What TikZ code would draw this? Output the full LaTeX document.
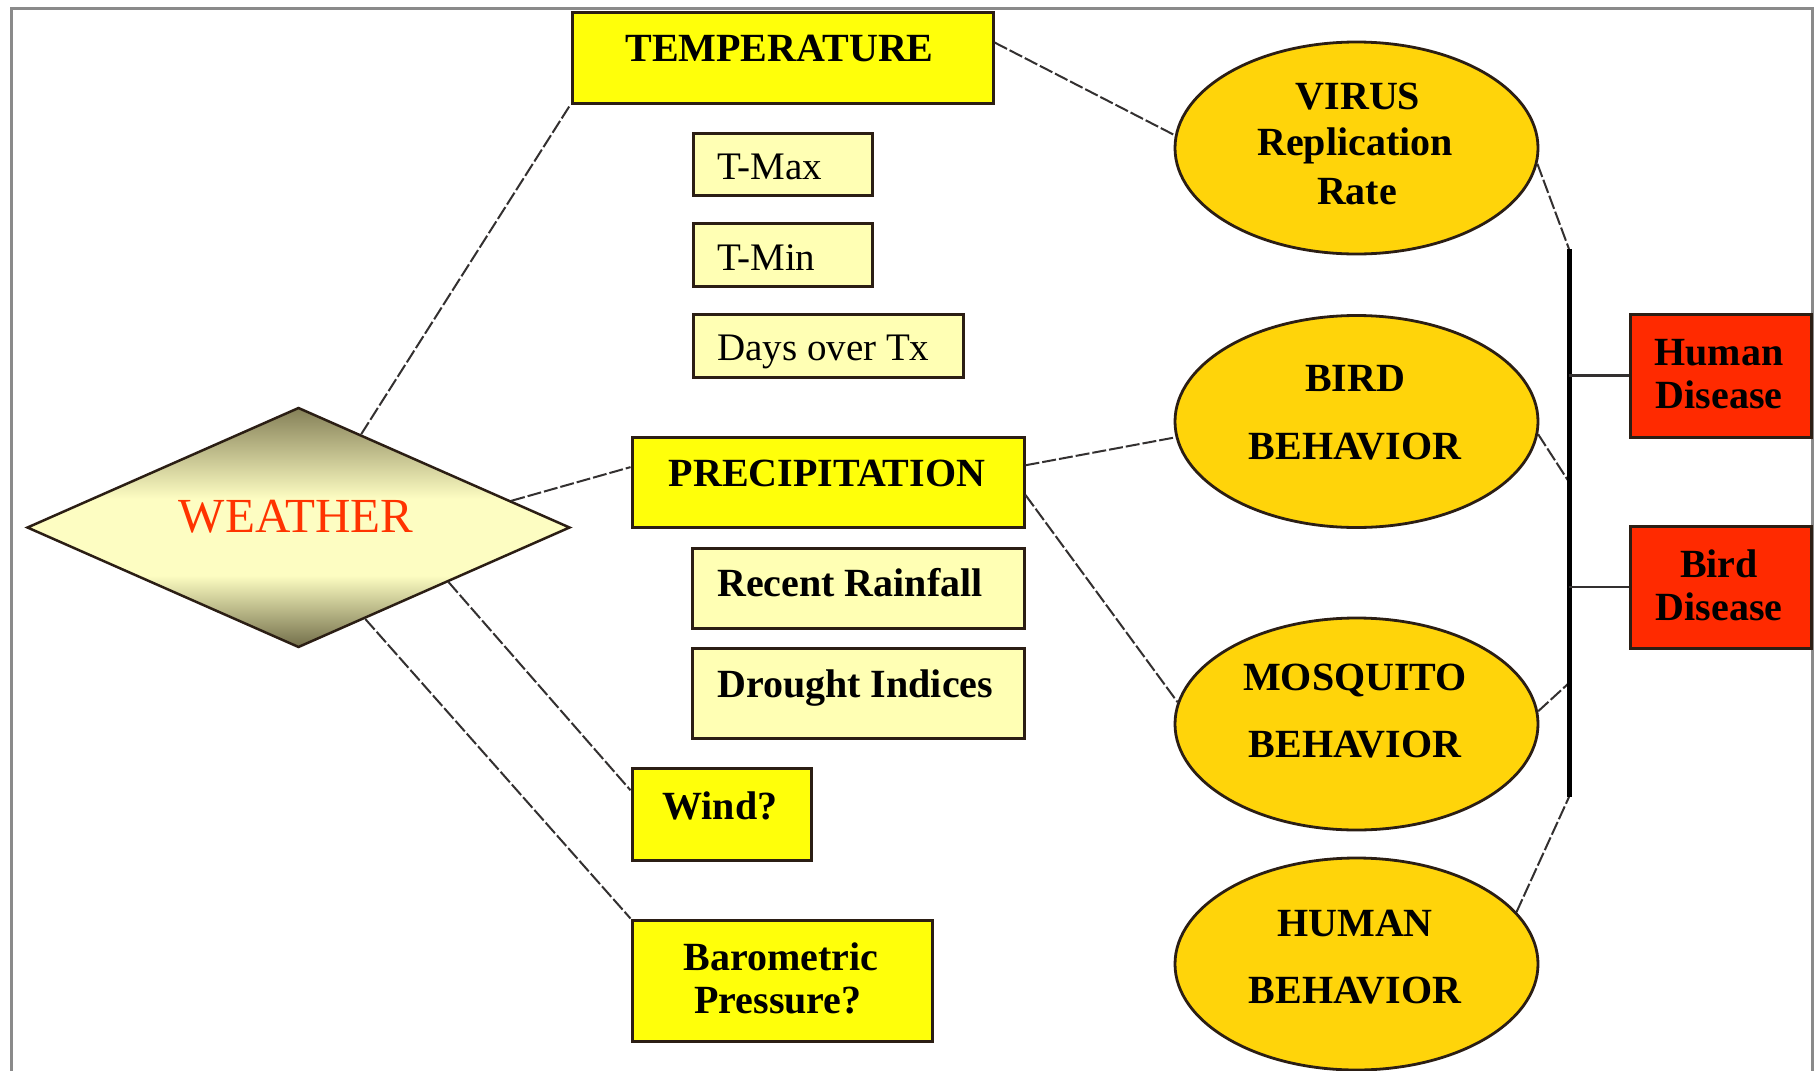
\documentclass[tikz,border=0pt]{standalone}
\usepackage{fontspec}
\setmainfont{Liberation Serif}
\usetikzlibrary{shapes.geometric,calc}
\definecolor{ybright}{HTML}{FFFF0A}
\definecolor{ylight}{HTML}{FFFFB4}
\definecolor{gold}{HTML}{FFD40A}
\definecolor{dred}{HTML}{FF2A00}
\definecolor{wred}{HTML}{FF3300}
\definecolor{edgecol}{HTML}{2B1E14}
\definecolor{framecol}{HTML}{8A8A8A}
\definecolor{conncol}{HTML}{333030}
\definecolor{wdarkT}{HTML}{858058}
\definecolor{wdarkB}{HTML}{726E4A}
\definecolor{wpale}{HTML}{FDFDC2}
\pgfdeclareverticalshading{wshade}{100bp}{color(0bp)=(wdarkB); color(25bp)=(wdarkB); color(40bp)=(wpale); color(56bp)=(wpale); color(75bp)=(wdarkT); color(100bp)=(wdarkT)}
\begin{document}
\begin{tikzpicture}[x=1pt,y=-1pt,
  box/.style={draw=edgecol, line width=3pt, rectangle, inner sep=0pt},
  ybox/.style={box, fill=ybright},
  lbox/.style={box, fill=ylight},
  rbox/.style={box, fill=dred},
  oval/.style={ellipse, draw=edgecol, line width=2.8pt, fill=gold, inner sep=0pt, minimum width=363pt, minimum height=212pt},
  btxt/.style={font=\fontsize{40}{46}\selectfont\bfseries, inner sep=0pt, anchor=base},
  btxtl/.style={btxt, anchor=base west},
  rtxt/.style={font=\fontsize{39}{45}\selectfont, inner sep=0pt, anchor=base west},
  link/.style={draw=conncol, line width=2pt, dash pattern=on 14pt off 3pt},
  plain/.style={draw=conncol, line width=2.2pt},
  barline/.style={draw=black, line width=5pt},
  framel/.style={draw=framecol, line width=3pt},
]
\useasboundingbox (0,0) rectangle (1816,1071);
\fill[white] (0,0) rectangle (1816,1071);
\draw[framel] (11,1071) -- (11,8) -- (1812,8) -- (1812,1071);

% weather diamond
\node[diamond, minimum width=543pt, minimum height=240pt, inner sep=0pt, draw=edgecol, line width=2.5pt, shading=wshade] (weather) at (298.5,527.5) {};
\node[font=\fontsize{49}{55}\selectfont, text=wred, inner sep=0pt, anchor=base] (weatherT) at (296,532) {WEATHER};

% boxes
\node[ybox, minimum width=421pt, minimum height=91pt] (temp) at (782.5,57.5) {};
\node[lbox, minimum width=179pt, minimum height=62pt] (tmax) at (782.5,164) {};
\node[lbox, minimum width=179pt, minimum height=63pt] (tmin) at (782.5,254.5) {};
\node[lbox, minimum width=270pt, minimum height=63pt] (days) at (828,345.5) {};
\node[ybox, minimum width=392pt, minimum height=90pt] (precip) at (828,482) {};
\node[lbox, minimum width=332pt, minimum height=80pt] (recent) at (858,588) {};
\node[lbox, minimum width=332pt, minimum height=90pt] (drought) at (858,693) {};
\node[ybox, minimum width=179pt, minimum height=92pt] (wind) at (721.5,814) {};
\node[ybox, minimum width=300pt, minimum height=121pt] (baro) at (782,980.5) {};
\node[rbox, minimum width=181pt, minimum height=123pt] (hd) at (1720.5,375.5) {};
\node[rbox, minimum width=181pt, minimum height=122pt] (bd) at (1720.5,587) {};

% ellipses
\node[oval] (virus) at (1356.5,148) {};
\node[oval] (bird) at (1356.5,421.5) {};
\node[oval] (mosq) at (1356.5,724) {};
\node[oval] (human) at (1356.5,964) {};

% texts
\node[btxt] (tempT) at (779.5,61) {TEMPERATURE};
\node[rtxt] (tmaxT) at (717,179) {T-Max};
\node[rtxt] (tminT) at (717,270) {T-Min};
\node[rtxt] (daysT) at (717,360) {Days over Tx};
\node[btxt] (precipT) at (827,486) {PRECIPITATION};
\node[btxtl] (recentT) at (717,596) {Recent Rainfall};
\node[btxtl] (droughtT) at (717,697) {Drought Indices};
\node[btxt] (windT) at (720,819) {Wind?};
\node[btxt] (baroT1) at (781,970) {Barometric};
\node[btxt] (baroT2) at (778,1013) {Pressure?};
\node[btxt] (virusT1) at (1358,109) {VIRUS};
\node[btxt] (virusT2) at (1355,155) {Replication};
\node[btxt] (virusT3) at (1357,204) {Rate};
\node[btxt] (birdT1) at (1355,391) {BIRD};
\node[btxt] (birdT2) at (1355,459) {BEHAVIOR};
\node[btxt] (mosqT1) at (1355,690) {MOSQUITO};
\node[btxt] (mosqT2) at (1355,757) {BEHAVIOR};
\node[btxt] (humanT1) at (1355,936) {HUMAN};
\node[btxt] (humanT2) at (1355,1003) {BEHAVIOR};
\node[btxt] (hdT1) at (1719,365) {Human};
\node[btxt] (hdT2) at (1719,408) {Disease};
\node[btxt] (bdT1) at (1719,577) {Bird};
\node[btxt] (bdT2) at (1719,620) {Disease};

% bar coordinates
\coordinate (bartop) at (1569,249);
\coordinate (barbot) at (1569,797);
\coordinate (bj1) at (1569,482);
\coordinate (bj2) at (1569,683);

% connectors from weather
\draw[link] ($(weather.north)!0.23!(weather.east)$) -- (temp.south west);
\draw[link] ($(weather.north)!0.78!(weather.east)$) -- ($(precip.north west)!0.34!(precip.south west)$);
\draw[link] ($(weather.east)!0.45!(weather.south)$) -- ($(wind.north west)!0.25!(wind.south west)$);
\draw[link] ($(weather.east)!0.755!(weather.south)$) -- (baro.north west);

% connectors to ellipses
\draw[link] ($(temp.north east)!0.34!(temp.south east)$) -- (virus.176);
\draw[link] ($(precip.north east)!0.32!(precip.south east)$) -- (bird.185);
\draw[link] ($(precip.north east)!0.64!(precip.south east)$) -- (mosq.173);

% ellipses to bar
\draw[link] (virus.-5) -- (bartop);
\draw[link] (bird.-4) -- (bj1);
\draw[link] (mosq.4) -- (bj2);
\draw[link] (human.18) -- (barbot);
\draw[barline] (bartop) -- (barbot);

% bar to disease boxes
\draw[plain] (hd.west) -- (hd.west -| bartop);
\draw[plain] (bd.west) -- (bd.west -| bartop);
\end{tikzpicture}
\end{document}
